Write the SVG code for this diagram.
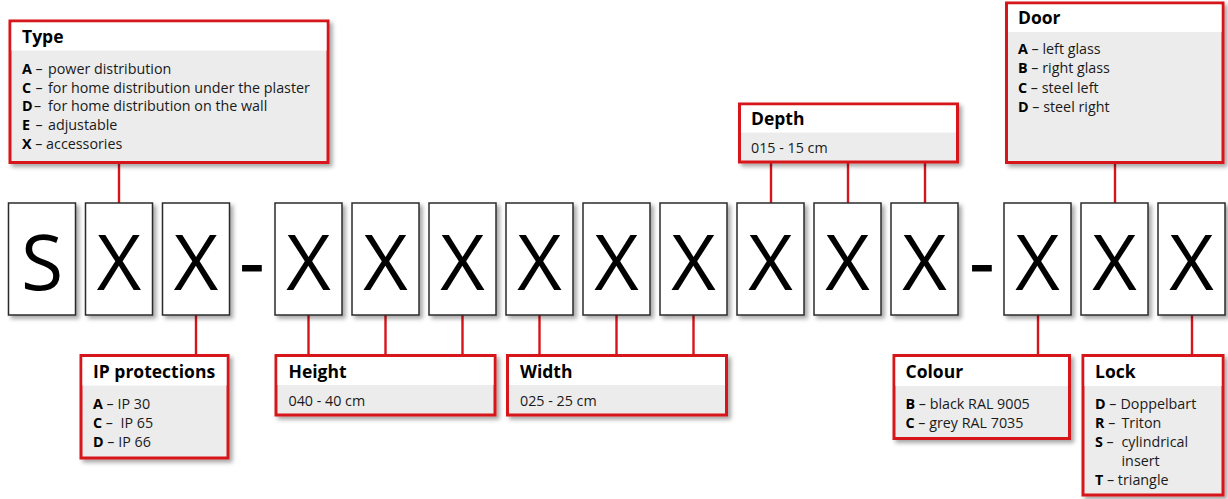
<svg xmlns="http://www.w3.org/2000/svg" width="1228" height="499" viewBox="0 0 1228 499">
<style>
  .ltr{fill:#fff;stroke:#2b2b2b;stroke-width:1.5;filter:url(#sh)}
  .big{font-family:"Open Sans","Noto Sans",sans-serif;font-size:77px;fill:#000;text-anchor:middle}
  .dash{font-family:"Open Sans","Noto Sans",sans-serif;font-size:77px;fill:#000;stroke:#000;stroke-width:1;text-anchor:middle}
  .panel{fill:#ececec;stroke:#d7141a;stroke-width:3;filter:url(#sh)}
  .head{fill:#fff}
  .ttl{font-family:"Open Sans","Noto Sans",sans-serif;font-size:17.5px;font-weight:bold;fill:#000}
  .txt{font-family:"Open Sans","Noto Sans",sans-serif;font-size:14.3px;fill:#1a1a1a}
  .b{font-weight:bold;fill:#000}
  .con line{stroke:#d7141a;stroke-width:2.4}
</style>
<defs>
  <filter id="sh" x="-10%" y="-10%" width="130%" height="130%">
    <feDropShadow dx="3" dy="3" stdDeviation="2" flood-color="#000" flood-opacity="0.35"/>
  </filter>
</defs>
<rect width="1228" height="499" fill="#fff"/>

<g id="connectors" class="con">
  <line x1="119" y1="164" x2="119" y2="203"/>
  <line x1="196" y1="315" x2="196" y2="354"/>
  <line x1="308.5" y1="315" x2="308.5" y2="354"/>
  <line x1="385.5" y1="315" x2="385.5" y2="354"/>
  <line x1="462.5" y1="315" x2="462.5" y2="354"/>
  <line x1="539.5" y1="315" x2="539.5" y2="354"/>
  <line x1="616.5" y1="315" x2="616.5" y2="354"/>
  <line x1="693.5" y1="315" x2="693.5" y2="354"/>
  <line x1="771" y1="163" x2="771" y2="203"/>
  <line x1="848" y1="163" x2="848" y2="203"/>
  <line x1="925" y1="163" x2="925" y2="203"/>
  <line x1="1038" y1="315" x2="1038" y2="354"/>
  <line x1="1115" y1="164" x2="1115" y2="203"/>
  <line x1="1192" y1="315" x2="1192" y2="354"/>
</g>

<g id="code">
  <g id="c1"><rect class="ltr" x="8.5" y="203" width="67" height="112"/><text class="big" x="42" y="290">S</text></g>
  <g id="c2"><rect class="ltr" x="85.5" y="203" width="67" height="112"/><text class="big" x="119" y="290">X</text></g>
  <g id="c3"><rect class="ltr" x="162.5" y="203" width="67" height="112"/><text class="big" x="196" y="290">X</text></g>
  <text class="dash" x="252" y="289">-</text>
  <g id="c4"><rect class="ltr" x="275" y="203" width="67" height="112"/><text class="big" x="308.5" y="290">X</text></g>
  <g id="c5"><rect class="ltr" x="352" y="203" width="67" height="112"/><text class="big" x="385.5" y="290">X</text></g>
  <g id="c6"><rect class="ltr" x="429" y="203" width="67" height="112"/><text class="big" x="462.5" y="290">X</text></g>
  <g id="c7"><rect class="ltr" x="506" y="203" width="67" height="112"/><text class="big" x="539.5" y="290">X</text></g>
  <g id="c8"><rect class="ltr" x="583" y="203" width="67" height="112"/><text class="big" x="616.5" y="290">X</text></g>
  <g id="c9"><rect class="ltr" x="660" y="203" width="67" height="112"/><text class="big" x="693.5" y="290">X</text></g>
  <g id="c10"><rect class="ltr" x="737" y="203" width="67" height="112"/><text class="big" x="770.5" y="290">X</text></g>
  <g id="c11"><rect class="ltr" x="814" y="203" width="67" height="112"/><text class="big" x="847.5" y="290">X</text></g>
  <g id="c12"><rect class="ltr" x="891" y="203" width="67" height="112"/><text class="big" x="924.5" y="290">X</text></g>
  <text class="dash" x="982" y="289">-</text>
  <g id="c13"><rect class="ltr" x="1004" y="203" width="67" height="112"/><text class="big" x="1037.5" y="290">X</text></g>
  <g id="c14"><rect class="ltr" x="1081" y="203" width="67" height="112"/><text class="big" x="1114.5" y="290">X</text></g>
  <g id="c15"><rect class="ltr" x="1158" y="203" width="67" height="112"/><text class="big" x="1191.5" y="290">X</text></g>
</g>

<g id="type">
  <rect class="panel" x="10" y="21" width="318" height="141.5"/>
  <rect class="head" x="11.5" y="22.5" width="315" height="28"/>
  <text class="ttl" x="22" y="42.5">Type</text>
  <text class="txt" y="74"><tspan class="b" x="22">A</tspan><tspan x="35.5">–</tspan><tspan x="48">power distribution</tspan></text>
  <text class="txt" y="92.7"><tspan class="b" x="22">C</tspan><tspan x="35.5">–</tspan><tspan x="48">for home distribution under the plaster</tspan></text>
  <text class="txt" y="111.4"><tspan class="b" x="22">D</tspan><tspan x="34">–</tspan><tspan x="48">for home distribution on the wall</tspan></text>
  <text class="txt" y="130.1"><tspan class="b" x="22">E</tspan><tspan x="35.5">–</tspan><tspan x="48">adjustable</tspan></text>
  <text class="txt" y="148.8"><tspan class="b" x="22">X</tspan> – accessories</text>
</g>

<g id="door">
  <rect class="panel" x="1006.5" y="3" width="216.5" height="159.5"/>
  <rect class="head" x="1008" y="4.5" width="213.5" height="27.5"/>
  <text class="ttl" x="1018" y="24">Door</text>
  <text class="txt" x="1018" y="54.3"><tspan class="b">A</tspan> – left glass</text>
  <text class="txt" x="1018" y="73.3"><tspan class="b">B</tspan> – right glass</text>
  <text class="txt" x="1018" y="92.5"><tspan class="b">C</tspan> – steel left</text>
  <text class="txt" x="1018" y="111.6"><tspan class="b">D</tspan> – steel right</text>
</g>

<g id="depth">
  <rect class="panel" x="739.5" y="104" width="218" height="58"/>
  <rect class="head" x="741" y="105.5" width="215" height="27"/>
  <text class="ttl" x="751" y="125">Depth</text>
  <text class="txt" x="751" y="152.7">015 - 15 cm</text>
</g>

<g id="ip">
  <rect class="panel" x="81" y="355.5" width="147" height="102.5"/>
  <rect class="head" x="82.5" y="357" width="144" height="28.5"/>
  <text class="ttl" x="93" y="378.3">IP protections</text>
  <text class="txt" x="93" y="409"><tspan class="b">A</tspan> – IP 30</text>
  <text class="txt" y="427.8"><tspan class="b" x="93">C</tspan> – <tspan x="120.5">IP 65</tspan></text>
  <text class="txt" x="93" y="446.6"><tspan class="b">D</tspan> – IP 66</text>
</g>

<g id="height">
  <rect class="panel" x="276" y="355.5" width="219" height="59.5"/>
  <rect class="head" x="277.5" y="357" width="216" height="28"/>
  <text class="ttl" x="288.5" y="377.7">Height</text>
  <text class="txt" x="288.5" y="406">040 - 40 cm</text>
</g>

<g id="width">
  <rect class="panel" x="507.5" y="355.5" width="219" height="59.5"/>
  <rect class="head" x="509" y="357" width="216" height="28"/>
  <text class="ttl" x="520" y="377.7">Width</text>
  <text class="txt" x="520" y="406">025 - 25 cm</text>
</g>

<g id="colour">
  <rect class="panel" x="894" y="355.5" width="175.5" height="83"/>
  <rect class="head" x="895.5" y="357" width="172.5" height="29"/>
  <text class="ttl" x="905.5" y="378.3">Colour</text>
  <text class="txt" x="905.5" y="409"><tspan class="b">B</tspan> – black RAL 9005</text>
  <text class="txt" x="905.5" y="428"><tspan class="b">C</tspan> – grey RAL 7035</text>
</g>

<g id="lock">
  <rect class="panel" x="1083" y="355.5" width="140" height="139.5"/>
  <rect class="head" x="1084.5" y="357" width="137" height="29"/>
  <text class="ttl" x="1095" y="378.3">Lock</text>
  <text class="txt" y="409"><tspan class="b" x="1095">D</tspan> – <tspan x="1120.5">Doppelbart</tspan></text>
  <text class="txt" y="428"><tspan class="b" x="1095">R</tspan> – <tspan x="1121.5">Triton</tspan></text>
  <text class="txt" y="447.2"><tspan class="b" x="1095">S</tspan> – <tspan x="1121.5">cylindrical</tspan></text>
  <text class="txt" x="1121.5" y="466">insert</text>
  <text class="txt" x="1095" y="485.2"><tspan class="b">T</tspan> – triangle</text>
</g>
</svg>
